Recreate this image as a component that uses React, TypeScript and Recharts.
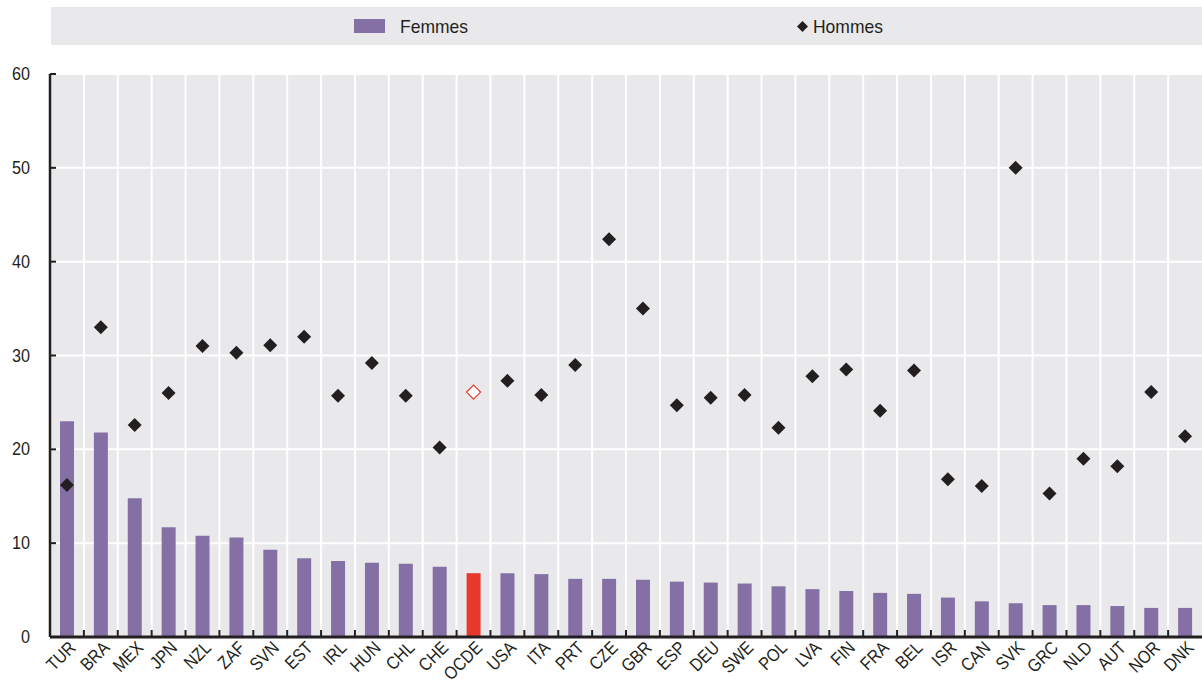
import React from 'react';
import {
  ComposedChart,
  Bar,
  Scatter,
  Cell,
  XAxis,
  YAxis,
  CartesianGrid,
} from 'recharts';

const pays = [
  'TUR', 'BRA', 'MEX', 'JPN', 'NZL', 'ZAF', 'SVN', 'EST', 'IRL', 'HUN', 'CHL', 'CHE',
  'OCDE', 'USA', 'ITA', 'PRT', 'CZE', 'GBR', 'ESP', 'DEU', 'SWE', 'POL', 'LVA', 'FIN',
  'FRA', 'BEL', 'ISR', 'CAN', 'SVK', 'GRC', 'NLD', 'AUT', 'NOR', 'DNK',
];

const femmes = [
  23.0, 21.8, 14.8, 11.7, 10.8, 10.6, 9.3, 8.4, 8.1, 7.9, 7.8, 7.5,
  6.8, 6.8, 6.7, 6.2, 6.2, 6.1, 5.9, 5.8, 5.7, 5.4, 5.1, 4.9,
  4.7, 4.6, 4.2, 3.8, 3.6, 3.4, 3.4, 3.3, 3.1, 3.1,
];

const hommes = [
  16.2, 33.0, 22.6, 26.0, 31.0, 30.3, 31.1, 32.0, 25.7, 29.2, 25.7, 20.2,
  26.1, 27.3, 25.8, 29.0, 42.4, 35.0, 24.7, 25.5, 25.8, 22.3, 27.8, 28.5,
  24.1, 28.4, 16.8, 16.1, 50.0, 15.3, 19.0, 18.2, 26.1, 21.4,
];

const yTicks = [0, 10, 20, 30, 40, 50, 60];

const data = pays.map((p, i) => ({ pays: p, femmes: femmes[i], hommes: hommes[i] }));

const PURPLE = '#8570a5';
const RED = '#e8392d';
const INK = '#231f20';
const BG = '#e9e9ec';
const FONT = '"Liberation Sans Narrow", "Liberation Sans", Arial, sans-serif';

function XTick(props: any) {
  const { x, y, payload, index, width, visibleTicksCount } = props;
  const step = (width || 1152) / (visibleTicksCount || pays.length);
  const bx = x - step / 2;
  return (
    <g>
      {index > 0 && <line x1={bx} x2={bx} y1={y} y2={y - 7} stroke={INK} strokeWidth={2} />}
      <g transform={`translate(${x + 7},${y + 9})`}>
        <text
          textAnchor="end"
          transform="rotate(-45) scale(0.88,1)"
          fontSize={18}
          fontFamily={FONT}
          fill={INK}
          dy={4}
        >
          {payload.value}
        </text>
      </g>
    </g>
  );
}

function YTick(props: any) {
  const { x, y, payload } = props;
  return (
    <g>
      <line x1={x} x2={x + 6} y1={y} y2={y} stroke={INK} strokeWidth={2} />
      <text
        transform={`translate(${x - 20},${y}) scale(0.9,1)`}
        dy={6}
        textAnchor="end"
        fontSize={18}
        fontFamily={FONT}
        fill={INK}
      >
        {payload.value}
      </text>
    </g>
  );
}

function Diamond(props: any) {
  const { cx, cy, payload } = props;
  const r = 7;
  const pts = `${cx},${cy - r} ${cx + r},${cy} ${cx},${cy + r} ${cx - r},${cy}`;
  if (payload && payload.pays === 'OCDE') {
    return <polygon points={pts} fill="#ffffff" stroke={RED} strokeWidth={1.2} />;
  }
  return <polygon points={pts} fill={INK} />;
}

export default function App() {
  return (
    <div style={{ position: 'relative', width: 1202, height: 685, fontFamily: FONT }}>
      <style>{'body{margin:0}'}</style>
      <div
        style={{
          position: 'absolute',
          left: 51,
          top: 7,
          width: 1151,
          height: 38,
          background: BG,
          color: INK,
          fontSize: 19,
        }}
      >
        <div style={{ position: 'absolute', left: 303, top: 12, width: 31, height: 14, background: PURPLE }} />
        <div style={{ position: 'absolute', left: 349, top: 9, lineHeight: '22px', transform: 'scaleX(0.92)', transformOrigin: 'left' }}>Femmes</div>
        <svg style={{ position: 'absolute', left: 746, top: 14 }} width={11} height={11}>
          <polygon points="5.5,0 11,5.5 5.5,11 0,5.5" fill={INK} />
        </svg>
        <div style={{ position: 'absolute', left: 762, top: 9, lineHeight: '22px', transform: 'scaleX(0.92)', transformOrigin: 'left' }}>Hommes</div>
      </div>
      <ComposedChart
        width={1202}
        height={685}
        data={data}
        margin={{ top: 74, right: 0, bottom: 0, left: 0 }}
      >
        <CartesianGrid
          fill={BG}
          stroke="#ffffff"
          strokeWidth={2}
          verticalCoordinatesGenerator={({ offset }: any) =>
            pays.slice(1).map((_, i) => offset.left + ((i + 1) * offset.width) / pays.length)
          }
        />
        <XAxis
          dataKey="pays"
          height={48}
          interval={0}
          tickSize={0}
          tickMargin={0}
          tickLine={false}
          axisLine={{ stroke: INK, strokeWidth: 3 }}
          tick={<XTick />}
        />
        <YAxis
          width={50}
          domain={[0, 60]}
          ticks={yTicks}
          tickSize={0}
          tickMargin={0}
          tickLine={false}
          axisLine={{ stroke: INK, strokeWidth: 2.5 }}
          tick={<YTick />}
        />
        <Bar dataKey="femmes" barSize={14} fill={PURPLE} isAnimationActive={false}>
          {data.map((d) => (
            <Cell key={d.pays} fill={d.pays === 'OCDE' ? RED : PURPLE} />
          ))}
        </Bar>
        <Scatter dataKey="hommes" shape={<Diamond />} isAnimationActive={false} />
      </ComposedChart>
    </div>
  );
}
